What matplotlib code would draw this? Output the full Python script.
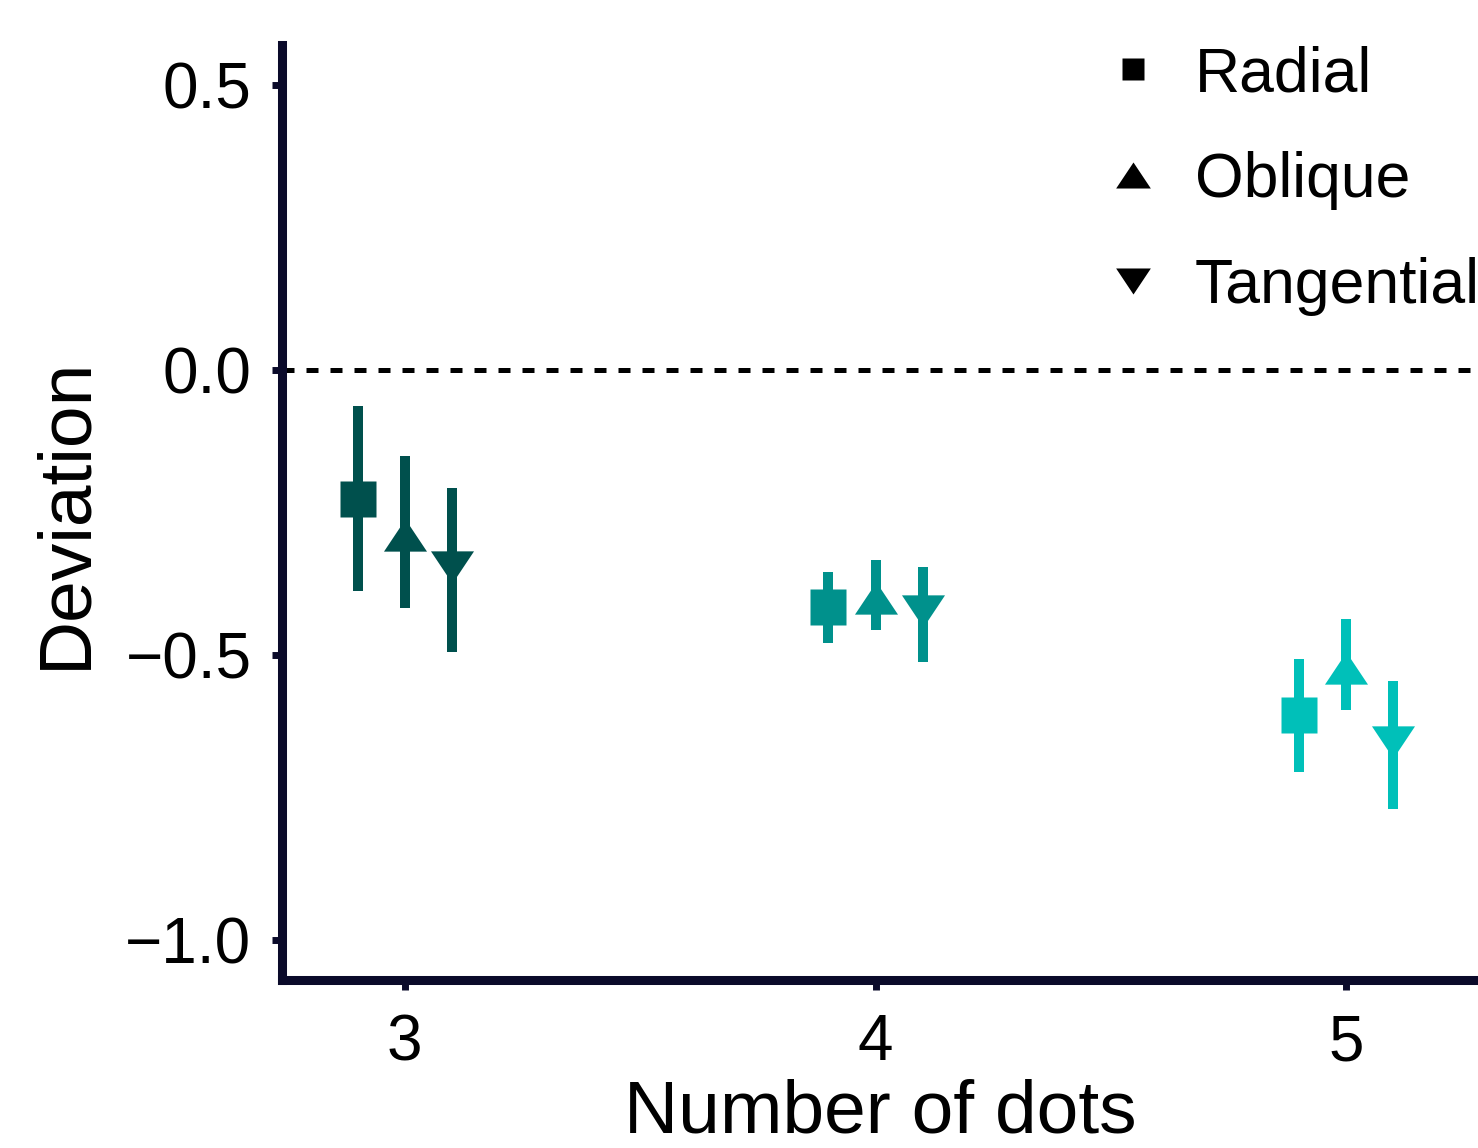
import matplotlib
matplotlib.use('Agg')
import matplotlib.pyplot as plt
import numpy as np

# data
dots = [3, 4, 5]
orientations = ['Radial', 'Oblique', 'Tangential']
offsets = [-0.1, 0.0, 0.1]

mean_radial = [-0.226, -0.416, -0.605]
low_radial = [-0.388, -0.479, -0.705]
high_radial = [-0.063, -0.354, -0.507]

mean_oblique = [-0.289, -0.400, -0.523]
low_oblique = [-0.418, -0.456, -0.596]
high_oblique = [-0.151, -0.333, -0.437]

mean_tangential = [-0.346, -0.423, -0.653]
low_tangential = [-0.495, -0.512, -0.770]
high_tangential = [-0.207, -0.346, -0.546]

colors = ['#00504d', '#00918c', '#00c0b9']

plt.rcParams['font.family'] = ['Liberation Sans', 'DejaVu Sans']

# ggplot-like triangles (wider than tall)
tri_up = [(0, 0.75), (-1, -0.75), (1, -0.75), (0, 0.75)]
tri_down = [(0, -0.75), (-1, 0.75), (1, 0.75), (0, -0.75)]
markers = ['s', tri_up, tri_down]
msizes = [26.5, 31, 31]

series = [
    (mean_radial, low_radial, high_radial),
    (mean_oblique, low_oblique, high_oblique),
    (mean_tangential, low_tangential, high_tangential),
]

fig = plt.figure(figsize=(14.78, 11.48), dpi=100)
ax = fig.add_axes([282 / 1478, 1 - 980 / 1148, 1 - 282 / 1478, (980 - 45) / 1148])

ax.axhline(0, color='black', lw=3.6, dashes=(2.4, 2.4), zorder=1)

for k, (m, lo, hi) in enumerate(series):
    for i, d in enumerate(dots):
        x = d + offsets[k]
        ax.plot([x, x], [lo[i], hi[i]], color=colors[i], lw=7.2,
                solid_capstyle='butt', zorder=2)
        ax.plot([x], [m[i]], marker=markers[k], ms=msizes[k], color=colors[i],
                mec='none', ls='none', zorder=3)

# legend drawn with black markers
handles = []
for k in range(3):
    h, = ax.plot([], [], marker=markers[k], color='black', ls='none',
                 ms=[16, 25, 25][k], mec='none')
    handles.append(h)
leg = ax.legend(handles, orientations, loc='upper left', bbox_to_anchor=(0.638, 1.06),
                frameon=False, fontsize=45, handlelength=1.0, handletextpad=0.5,
                labelspacing=0.75)

ax.set_xlim(2.739, 5.280)
ax.set_ylim(-1.070, 0.570)
ax.set_xticks(dots)
ax.set_xticklabels([str(d) for d in dots])
ax.set_yticks([0.5, 0.0, -0.5, -1.0])
ax.set_yticklabels(['0.5', '0.0', '\u22120.5', '\u22121.0'])

for s in ['top', 'right']:
    ax.spines[s].set_visible(False)
for s in ['left', 'bottom']:
    ax.spines[s].set_color('#0a0a2a')
    ax.spines[s].set_linewidth(6.5)
ax.tick_params(axis='both', width=5, length=7, color='#0a0a2a', labelsize=46)
ax.tick_params(axis='y', pad=15)
ax.tick_params(axis='x', pad=17)

ax.set_xlabel('Number of dots', fontsize=54, labelpad=4)
ax.set_ylabel('Deviation', fontsize=54, labelpad=18)

fig.savefig('out.png', dpi=100)
